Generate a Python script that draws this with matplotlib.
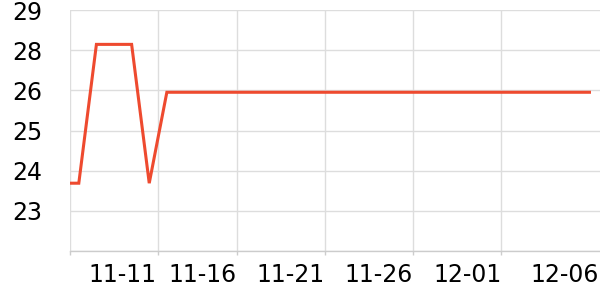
import pandas as pd
import numpy as np
import matplotlib
matplotlib.use('Agg')
import matplotlib.pyplot as plt

# données : une valeur par jour du 06/11 au 06/12
dates = pd.date_range('2024-11-06', '2024-12-06', freq='D')
values = [23.36, 23.36, 27.68, 27.68, 27.68, 23.36, 26.19, 26.19, 26.19, 26.19,
          26.19, 26.19, 26.19, 26.19, 26.19, 26.19, 26.19, 26.19, 26.19, 26.19,
          26.19, 26.19, 26.19, 26.19, 26.19, 26.19, 26.19, 26.19, 26.19, 26.19,
          26.19]

y_ticks = [21.25, 22.5, 23.75, 25.0, 26.25, 27.5, 28.75]
y_labels = ['', '23', '24', '25', '26', '28', '29']

x_grid = [0.5, 5.5, 10, 15, 20, 25]
x_label_pos = [3.5, 8.05, 13.05, 18.05, 23.1, 28.6]
x_labels = ['11-11', '11-16', '11-21', '11-26', '12-01', '12-06']

x = np.arange(len(dates))

fig = plt.figure(figsize=(6, 3), dpi=100)
ax = fig.add_axes([70 / 600, 49 / 300, 530 / 600, 241 / 300])

ax.plot(x, values, color='#ee4a2f', linewidth=2.2, solid_joinstyle='miter',
        solid_capstyle='projecting', zorder=3)

ax.set_xlim(0.5, 30.6)
ax.set_ylim(21.25, 28.75)

# grille
ax.set_xticks(x_grid)
ax.set_xticklabels([])
ax.set_xticks(x_label_pos, minor=True)
ax.set_xticklabels(x_labels, minor=True)
ax.tick_params(axis='x', which='major', length=3, color='#cccccc', width=1)
ax.tick_params(axis='x', which='minor', length=0, pad=9, labelsize=17)

ax.set_yticks(y_ticks)
ax.set_yticklabels(y_labels)
ax.tick_params(axis='y', length=0, pad=20, labelsize=17)

ax.grid(True, which='major', color='#dddddd', linewidth=1)
ax.set_axisbelow(True)

for s in ['top', 'right', 'left']:
    ax.spines[s].set_visible(False)
ax.spines['bottom'].set_color('#cccccc')
ax.spines['bottom'].set_linewidth(1)

fig.savefig('out.png', dpi=100)
